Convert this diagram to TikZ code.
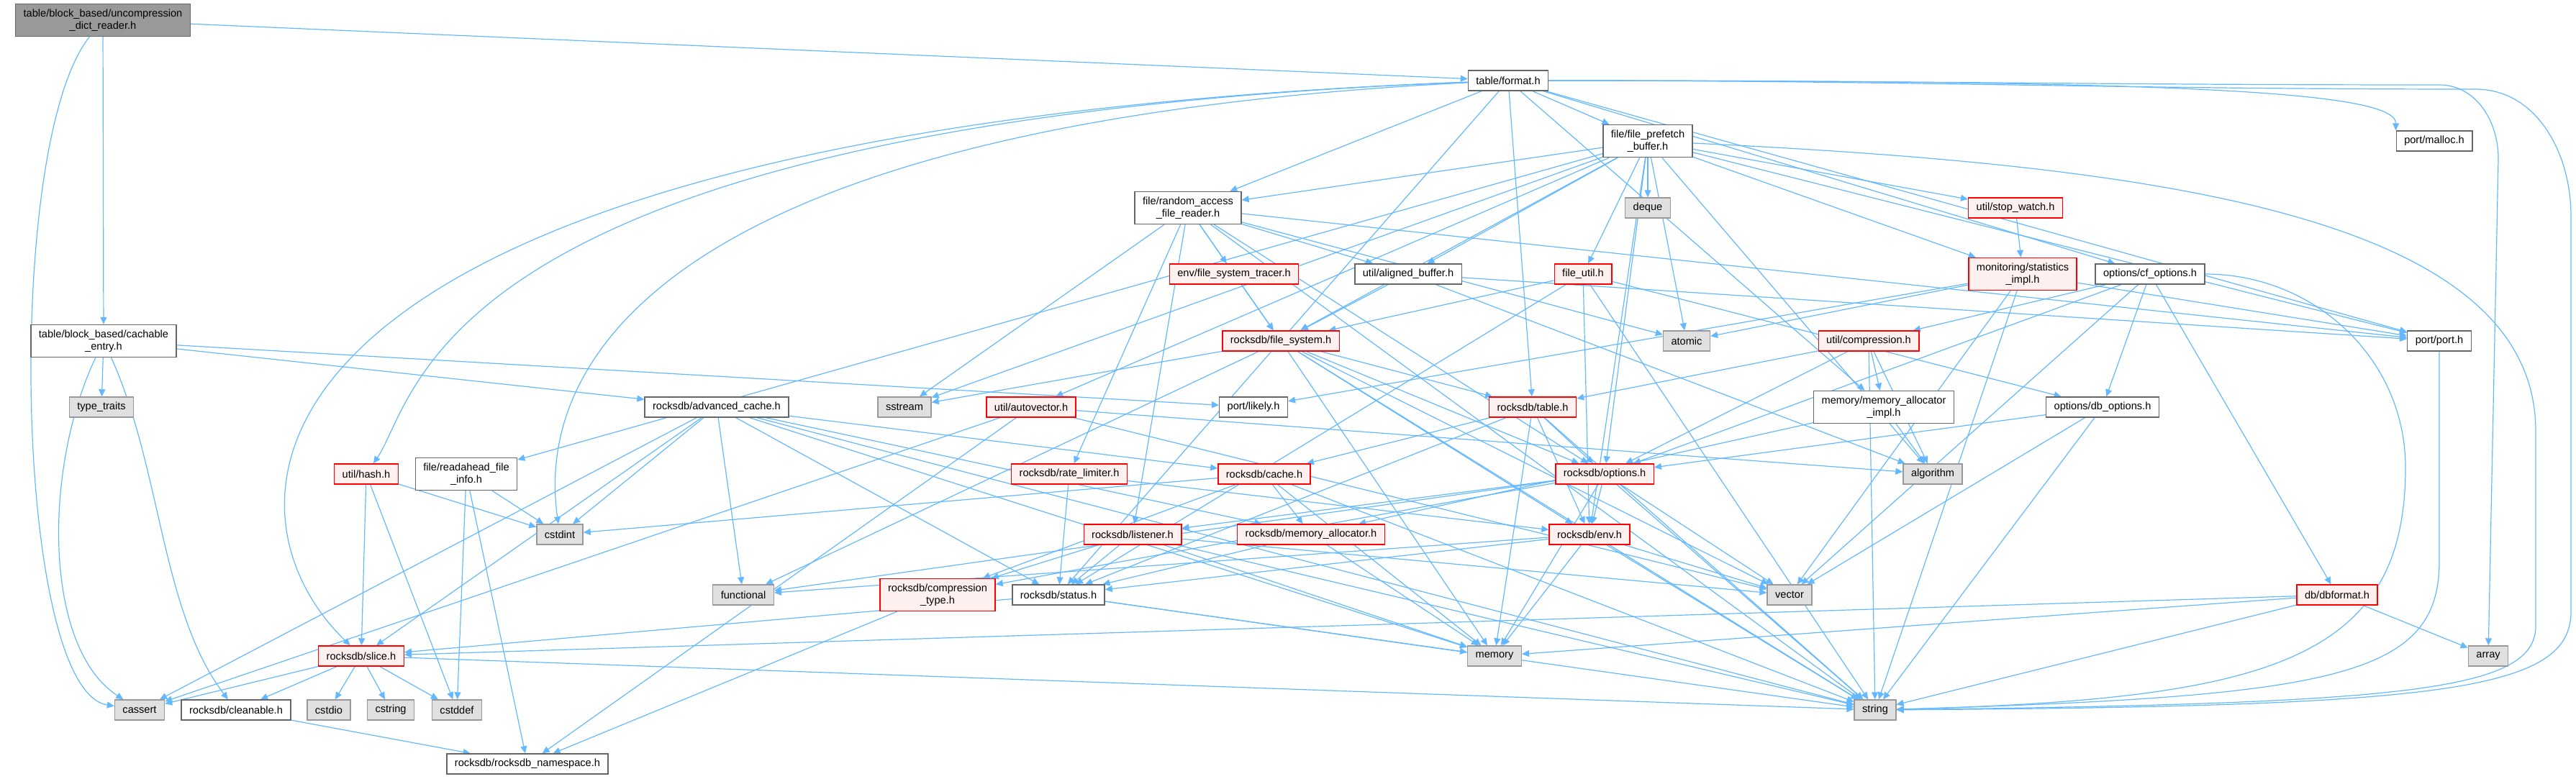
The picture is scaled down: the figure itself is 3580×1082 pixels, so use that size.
\documentclass[tikz,border=0pt]{standalone}
\usepackage{fontspec}
\setmainfont{Liberation Sans}
\usetikzlibrary{arrows.meta,backgrounds}

\definecolor{edgeblue}{HTML}{63B8FF}
\definecolor{nodegray}{HTML}{666666}
\definecolor{sysfill}{HTML}{E0E0E0}
\definecolor{sysdraw}{HTML}{999999}
\definecolor{truncfill}{HTML}{FFF0F0}
\definecolor{rootfill}{HTML}{999999}

\begin{document}
\begin{tikzpicture}[x=0.5pt, y=-0.5pt,
    box/.style={rectangle, draw=nodegray, fill=white, line width=0.7pt, align=center,
        font=\fontsize{7.3}{8.6}\selectfont, inner xsep=5.5pt, inner ysep=2pt, minimum height=14pt},
    sys/.style={box, draw=sysdraw, fill=sysfill},
    trunc/.style={box, draw=red, fill=truncfill},
    root/.style={box, fill=rootfill},
    twoline/.style={minimum height=22.5pt},
    arrow/.style={color=edgeblue, -{Stealth[length=5pt, width=4.5pt, inset=0pt]}, line width=0.6pt},
    every edge/.append style={color=edgeblue}
]
    \useasboundingbox (0,0) rectangle (3580,1082);

    % rows from top to bottom
    \node[root, twoline] (uncomp) at (143,28) {table/block\_based/uncompression\\\_dict\_reader.h};
    \node[box] (format) at (2096,112) {table/format.h};
    \node[box, twoline] (prefetch) at (2290,196) {file/file\_prefetch\\\_buffer.h};
    \node[box] (malloc) at (3383,196) {port/malloc.h};
    \node[box, twoline] (reader) at (1651,289) {file/random\_access\\\_file\_reader.h};
    \node[sys] (deque) at (2290,289) {deque};
    \node[trunc] (stopwatch) at (2801,289) {util/stop\_watch.h};
    \node[trunc] (tracer) at (1715,381) {env/file\_system\_tracer.h};
    \node[box] (aligned) at (1957,381) {util/aligned\_buffer.h};
    \node[trunc] (fileutil) at (2200,381) {file\_util.h};
    \node[trunc, twoline] (stats) at (2811,381) {monitoring/statistics\\\_impl.h};
    \node[box] (cfopts) at (2988,381) {options/cf\_options.h};
    \node[box, twoline] (cachable) at (144,474) {table/block\_based/cachable\\\_entry.h};
    \node[trunc] (filesys) at (1780,474) {rocksdb/file\_system.h};
    \node[sys] (atomic) at (2344,474) {atomic};
    \node[trunc] (compress) at (2597,474) {util/compression.h};
    \node[box] (port) at (3390,474) {port/port.h};
    \node[sys] (typetraits) at (141,566) {type\_traits};
    \node[box] (advcache) at (996,566) {rocksdb/advanced\_cache.h};
    \node[sys] (sstream) at (1257,566) {sstream};
    \node[trunc] (autovec) at (1433,566) {util/autovector.h};
    \node[box] (likely) at (1742,566) {port/likely.h};
    \node[trunc] (table) at (2130,566) {rocksdb/table.h};
    \node[box, twoline] (memimpl) at (2618,566) {memory/memory\_allocator\\\_impl.h};
    \node[box] (dbopts) at (2922,566) {options/db\_options.h};
    \node[trunc] (hash) at (509,659) {util/hash.h};
    \node[box, twoline] (readahead) at (648,659) {file/readahead\_file\\\_info.h};
    \node[trunc] (ratelim) at (1486,659) {rocksdb/rate\_limiter.h};
    \node[trunc] (cache) at (1757,659) {rocksdb/cache.h};
    \node[trunc] (options) at (2230,659) {rocksdb/options.h};
    \node[sys] (algorithm) at (2686,659) {algorithm};
    \node[sys] (cstdint) at (778,743) {cstdint};
    \node[trunc] (listener) at (1574,743) {rocksdb/listener.h};
    \node[trunc] (memalloc) at (1822,743) {rocksdb/memory\_allocator.h};
    \node[trunc] (env) at (2209,743) {rocksdb/env.h};
    \node[sys] (functional) at (1033,827) {functional};
    \node[trunc, twoline] (comptype) at (1303,827) {rocksdb/compression\\\_type.h};
    \node[box] (status) at (1471,827) {rocksdb/status.h};
    \node[sys] (vector) at (2487,827) {vector};
    \node[trunc] (dbformat) at (3248,827) {db/dbformat.h};
    \node[trunc] (slice) at (502,912) {rocksdb/slice.h};
    \node[sys] (memory) at (2077,912) {memory};
    \node[sys] (array) at (3458,912) {array};
    \node[sys] (cassert) at (194,987) {cassert};
    \node[box] (cleanable) at (328,987) {rocksdb/cleanable.h};
    \node[sys] (cstdio) at (457,987) {cstdio};
    \node[sys] (cstring) at (543,987) {cstring};
    \node[sys] (cstddef) at (635,987) {cstddef};
    \node[sys] (string) at (2606,987) {string};
    \node[box] (rnsp) at (733,1062) {rocksdb/rocksdb\_namespace.h};

    \begin{pgfonlayer}{background}
    % long includes routed round the other files
    \draw[arrow] (uncomp) .. controls (5,200) and (20,960) .. (cassert);
    \draw[arrow] (cachable) .. controls (60,650) and (60,900) .. (cassert);
    \draw[arrow] (cachable) .. controls (224,650) and (224,850) .. (cleanable);
    \draw[arrow] (format) .. controls (300,180) and (282,700) .. (slice);
    \draw[arrow] (format) .. controls (600,170) and (583,550) .. (hash);
    \draw[arrow] (format) .. controls (760,180) and (758,600) .. (cstdint);
    \draw[arrow] (format.east) .. controls (3000,112) and (3330,125) .. (malloc.north west);
    \draw[arrow] (format.east) to[out=0, in=180] (3390,118) to[out=0, in=90] (3472,220) -- (array);
    \draw[arrow] (format.east) to[out=0, in=180] (3440,124) to[out=0, in=90] (3573,300)
        -- (3573,850) .. controls (3573,960) and (3400,982) .. (string);
    \draw[arrow] (prefetch) .. controls (3000,230) and (3524,300) .. (3524,600)
        -- (3524,870) .. controls (3524,960) and (3350,978) .. (string);
    \draw[arrow] (cfopts) to[out=0, in=90] (3343,650)
        .. controls (3343,920) and (3150,972) .. (string);
    \draw[arrow] (port) -- (3390,780) .. controls (3390,940) and (3250,968) .. (string);

    % other include edges, one path per including file
    \path[arrow] (uncomp) edge (format) edge (cachable);
    \path[arrow] (cachable) edge (typetraits) edge (advcache) edge (likely);
    \path[arrow] (format) edge (prefetch) edge (reader) edge (memimpl) edge (cfopts)
        edge (port) edge (status) edge (table);
    \path[arrow] (prefetch) edge (algorithm) edge (atomic) edge (deque) edge (sstream)
        edge (readahead) edge (fileutil) edge (stats) edge (port) edge (env) edge (filesys) edge (options)
        edge (aligned) edge (autovec) edge (stopwatch) edge (reader);
    \path[arrow] (reader) edge (atomic) edge (sstream) edge (string) edge (tracer) edge (port)
        edge (filesys) edge (listener) edge (options) edge (ratelim) edge (aligned);
    \path[arrow] (tracer) edge (filesys);
    \path[arrow] (aligned) edge (algorithm) edge (port) edge (filesys);
    \path[arrow] (fileutil) edge (string) edge (dbopts) edge (env) edge (filesys) edge (status);
    \path[arrow] (filesys) edge (functional) edge (memory) edge (sstream) edge (string) edge (vector)
        edge (env) edge (options) edge (table);
    \path[arrow] (table) edge (memory) edge (string) edge (cache) edge (env) edge (options) edge (status);
    \path[arrow] (options) edge (functional) edge (memory) edge (string) edge (vector) edge (comptype)
        edge (env) edge (listener);
    \path[arrow] (env) edge (functional) edge (memory) edge (string) edge (vector) edge (status);
    \path[arrow] (status) edge (memory) edge (string) edge (slice);
    \path[arrow] (slice) edge (cassert) edge (cleanable) edge (cstdio) edge (cstring) edge (cstddef) edge (string);
    \path[arrow] (cleanable) edge (rnsp);
    \path[arrow] (hash) edge (cstddef) edge (cstdint) edge (slice);
    \path[arrow] (readahead) edge (cstddef) edge (cstdint) edge (rnsp);
    \path[arrow] (advcache) edge (cassert) edge (cstdint) edge (functional) edge (memory) edge (string)
        edge (cache) edge (memalloc) edge (slice) edge (status);
    \path[arrow] (autovec) edge (algorithm) edge (cassert) edge (vector) edge (rnsp);
    \path[arrow] (ratelim) edge (env) edge (status);
    \path[arrow] (listener) edge (memory) edge (string) edge (vector) edge (comptype) edge (status);
    \path[arrow] (memalloc) edge (status) edge (memory);
    \path[arrow] (comptype) edge (rnsp);
    \path[arrow] (cache) edge (cstdint) edge (comptype) edge (memalloc) edge (memory) edge (string);
    \path[arrow] (stats) edge (atomic) edge (string) edge (vector) edge (likely) edge (port);
    \path[arrow] (stopwatch) edge (stats);
    \path[arrow] (cfopts) edge (vector) edge (dbformat) edge (dbopts) edge (options) edge (compress);
    \path[arrow] (dbopts) edge (string) edge (vector) edge (options);
    \path[arrow] (compress) edge (algorithm) edge (string) edge (memimpl) edge (options) edge (table);
    \path[arrow] (memimpl) edge (algorithm) edge (memalloc);
    \path[arrow] (dbformat) edge (array) edge (memory) edge (string) edge (slice);
    \end{pgfonlayer}
\end{tikzpicture}
\end{document}
